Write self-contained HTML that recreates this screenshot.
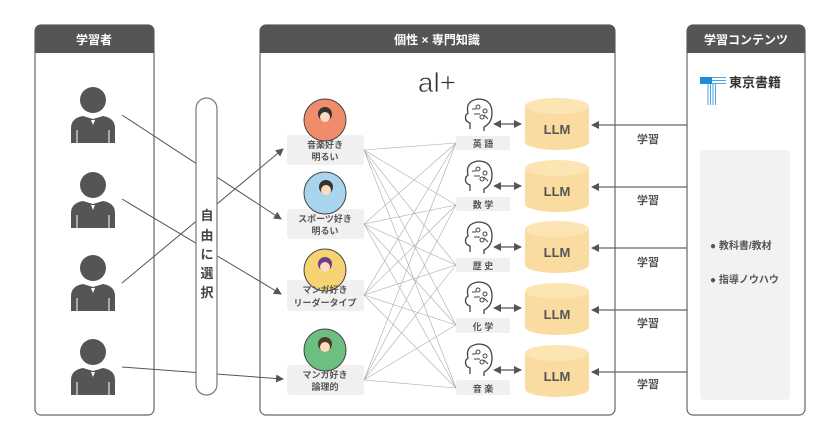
<!DOCTYPE html>
<html><head><meta charset="utf-8"><style>
html,body{margin:0;padding:0;background:#fff;}
svg{display:block;font-family:"Liberation Sans","Noto Sans CJK JP",sans-serif;}
</style></head><body>
<svg width="840" height="441" viewBox="0 0 840 441" xmlns="http://www.w3.org/2000/svg">
<defs>
<marker id="ar" markerWidth="8" markerHeight="8" refX="7" refY="4" orient="auto" markerUnits="userSpaceOnUse"><path d="M0,0 L8,4 L0,8 z" fill="#555"/></marker>
<marker id="ar2" markerWidth="8" markerHeight="8" refX="1" refY="4" orient="auto-start-reverse" markerUnits="userSpaceOnUse"><path d="M0,0 L8,4 L0,8 z" fill="#555"/></marker>
<g id="person"><circle cx="0" cy="0" r="13" fill="#555"/><path d="M-22,43 L-22,28 Q-22,18 -10,16 L0,19 L10,16 Q22,18 22,28 L22,43 Z" fill="#555"/><path d="M-16,30 V43 M16,30 V43" stroke="#fff" stroke-width="1"/><path d="M-2,20 L0,25 L2,20 Z" fill="#fff"/></g>
<g id="brain"><path d="M-10,12 L-10,6 Q-16,4 -14,-2 L-12,-4 Q-15,-16 -2,-18 Q12,-18 12,-4 Q12,6 4,10 L4,14" fill="none" stroke="#444" stroke-width="1.3"/><circle cx="-2" cy="-10" r="2" fill="none" stroke="#444"/><circle cx="5" cy="-6" r="2" fill="none" stroke="#444"/><circle cx="2" cy="0" r="2" fill="none" stroke="#444"/><path d="M-8,-8 H-4 M-6,-3 H0 M4,-2 L8,2" stroke="#444" stroke-width="1"/></g>
<g id="cyl"><path d="M0,8 V44 A32,8 0 0 0 64,44 V8 Z" fill="#fbdca0"/><ellipse cx="32" cy="8" rx="32" ry="8" fill="#fce5b3"/><text x="32" y="36" text-anchor="middle" font-size="13" font-weight="bold" fill="#555">LLM</text></g>
</defs>
<g stroke="#666" stroke-width="1.2" fill="#fff">
<rect x="35" y="25" width="119" height="390" rx="6"/>
<rect x="260" y="25" width="355" height="390" rx="6"/>
<rect x="687" y="25" width="118" height="390" rx="6"/>
</g>
<path d="M35,53 V31 Q35,25 41,25 H148 Q154,25 154,31 V53 Z" fill="#555"/>
<path d="M260,53 V31 Q260,25 266,25 H609 Q615,25 615,31 V53 Z" fill="#555"/>
<path d="M687,53 V31 Q687,25 693,25 H799 Q805,25 805,31 V53 Z" fill="#555"/>
<g fill="#fff" font-size="12" font-weight="bold" text-anchor="middle">
<text x="94" y="44">学習者</text><text x="437" y="44">個性 × 専門知識</text><text x="746" y="44">学習コンテンツ</text>
</g>
<use href="#person" x="93" y="100"/><use href="#person" x="93" y="185"/><use href="#person" x="93" y="268"/><use href="#person" x="93" y="352"/>
<g stroke="#555" stroke-width="1" marker-end="url(#ar)">
<line x1="122" y1="115" x2="281" y2="219"/><line x1="122" y1="199" x2="281" y2="294"/>
<line x1="122" y1="283" x2="283" y2="149"/><line x1="122" y1="367" x2="283" y2="379"/>
</g>
<rect x="196" y="98" width="21" height="297" rx="10.5" fill="#fff" stroke="#777" stroke-width="1.2"/>
<g font-size="13" font-weight="bold" fill="#444" text-anchor="middle">
<text x="207" y="220">自</text><text x="207" y="240">由</text><text x="207" y="259">に</text><text x="207" y="278">選</text><text x="207" y="297">択</text>
</g>
<text x="437" y="92" text-anchor="middle" font-size="28" fill="#333" stroke="#fff" stroke-width="0.7">al+</text>
<g stroke="#aaa" stroke-width="0.6">
<line x1="364" y1="150" x2="456" y2="143"/><line x1="364" y1="150" x2="456" y2="205"/><line x1="364" y1="150" x2="456" y2="265"/><line x1="364" y1="150" x2="456" y2="325"/><line x1="364" y1="150" x2="456" y2="388"/>
<line x1="364" y1="224" x2="456" y2="143"/><line x1="364" y1="224" x2="456" y2="205"/><line x1="364" y1="224" x2="456" y2="265"/><line x1="364" y1="224" x2="456" y2="325"/><line x1="364" y1="224" x2="456" y2="388"/>
<line x1="364" y1="295" x2="456" y2="143"/><line x1="364" y1="295" x2="456" y2="205"/><line x1="364" y1="295" x2="456" y2="265"/><line x1="364" y1="295" x2="456" y2="325"/><line x1="364" y1="295" x2="456" y2="388"/>
<line x1="364" y1="380" x2="456" y2="143"/><line x1="364" y1="380" x2="456" y2="205"/><line x1="364" y1="380" x2="456" y2="265"/><line x1="364" y1="380" x2="456" y2="325"/><line x1="364" y1="380" x2="456" y2="388"/>
</g>
<g fill="#f0f0f0">
<rect x="287" y="135" width="77" height="30" rx="3"/><rect x="287" y="209" width="77" height="30" rx="3"/>
<rect x="287" y="280" width="77" height="31" rx="3"/><rect x="287" y="365" width="77" height="30" rx="3"/>
</g>
<g stroke="#444" stroke-width="1">
<circle cx="325" cy="120" r="21" fill="#f08c6c"/><circle cx="325" cy="193" r="21" fill="#a9d4ee"/>
<circle cx="325" cy="270" r="21" fill="#f6d272"/><circle cx="325" cy="350" r="21" fill="#6cbf7e"/>
</g>
<g fill="#333"><circle cx="325" cy="114" r="7"/><circle cx="326" cy="187" r="7"/><circle cx="325" cy="264" r="7" fill="#6b3d8a"/><circle cx="325" cy="344" r="7" fill="#4a3a2a"/></g>
<g fill="#ffd9c0"><circle cx="325" cy="117" r="5"/><circle cx="326" cy="190" r="5"/><circle cx="325" cy="267" r="5"/><circle cx="325" cy="347" r="5"/></g>
<g font-size="9" font-weight="bold" fill="#555" text-anchor="middle">
<text x="325" y="148">音楽好き</text><text x="325" y="160">明るい</text>
<text x="325" y="222">スポーツ好き</text><text x="325" y="234">明るい</text>
<text x="325" y="293">マンガ好き</text><text x="325" y="306">リーダータイプ</text>
<text x="325" y="378">マンガ好き</text><text x="325" y="390">論理的</text>
</g>
<g fill="#f0f0f0">
<rect x="456" y="136" width="54" height="14" rx="2"/><rect x="456" y="197" width="54" height="14" rx="2"/>
<rect x="456" y="258" width="54" height="14" rx="2"/><rect x="456" y="318" width="54" height="15" rx="2"/><rect x="456" y="380" width="54" height="15" rx="2"/>
</g>
<g font-size="9" font-weight="bold" fill="#555" text-anchor="middle">
<text x="483" y="147">英 語</text><text x="483" y="208">数 学</text><text x="483" y="269">歴 史</text><text x="483" y="330">化 学</text><text x="483" y="392">音 楽</text>
</g>
<use href="#brain" x="480" y="117"/><use href="#brain" x="480" y="179"/><use href="#brain" x="480" y="240"/><use href="#brain" x="480" y="300"/><use href="#brain" x="480" y="362"/>
<g stroke="#555" stroke-width="1.2" marker-start="url(#ar2)" marker-end="url(#ar)">
<line x1="500" y1="124" x2="521" y2="124"/><line x1="500" y1="186" x2="521" y2="186"/><line x1="500" y1="247" x2="521" y2="247"/><line x1="500" y1="308" x2="521" y2="308"/><line x1="500" y1="370" x2="521" y2="370"/>
</g>
<use href="#cyl" x="525" y="98"/><use href="#cyl" x="525" y="160"/><use href="#cyl" x="525" y="221"/><use href="#cyl" x="525" y="283"/><use href="#cyl" x="525" y="345"/>
<g stroke="#666" stroke-width="1.2" marker-end="url(#ar)">
<line x1="687" y1="125" x2="592" y2="125"/><line x1="687" y1="187" x2="592" y2="187"/><line x1="687" y1="248" x2="592" y2="248"/><line x1="687" y1="310" x2="592" y2="310"/><line x1="687" y1="372" x2="592" y2="372"/>
</g>
<g font-size="11" font-weight="bold" fill="#555" text-anchor="middle">
<text x="648" y="143">学習</text><text x="648" y="204">学習</text><text x="648" y="266">学習</text><text x="648" y="327">学習</text><text x="648" y="388">学習</text>
</g>
<rect x="700" y="77" width="12" height="7" fill="#1a8fd8"/>
<g stroke="#1a8fd8" stroke-width="0.8"><line x1="708" y1="84" x2="708" y2="105"/><line x1="710.5" y1="84" x2="710.5" y2="105"/><line x1="713" y1="84" x2="713" y2="105"/><line x1="715.5" y1="84" x2="715.5" y2="105"/><line x1="712" y1="77.5" x2="726" y2="77.5"/><line x1="712" y1="80.5" x2="726" y2="80.5"/><line x1="712" y1="83.5" x2="726" y2="83.5"/></g>
<text x="729" y="87" font-size="13" font-weight="bold" fill="#333">東京書籍</text>
<rect x="700" y="150" width="90" height="250" rx="4" fill="#f2f2f2"/>
<g font-size="10" font-weight="bold" fill="#555">
<text x="710" y="249">● 教科書/教材</text><text x="710" y="283">● 指導ノウハウ</text>
</g>
</svg>
</body></html>
